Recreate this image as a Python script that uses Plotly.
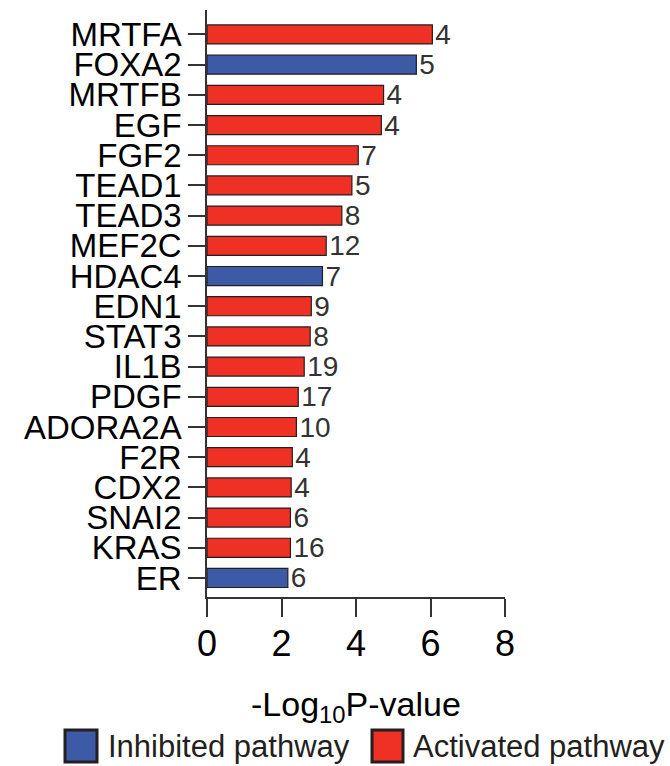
import plotly.graph_objects as go

genes = ["MRTFA", "FOXA2", "MRTFB", "EGF", "FGF2", "TEAD1", "TEAD3", "MEF2C", "HDAC4",
         "EDN1", "STAT3", "IL1B", "PDGF", "ADORA2A", "F2R", "CDX2", "SNAI2", "KRAS", "ER"]
neg_log10_p = [6.05, 5.62, 4.74, 4.68, 4.06, 3.89, 3.62, 3.20, 3.10,
               2.80, 2.77, 2.61, 2.45, 2.40, 2.29, 2.26, 2.24, 2.24, 2.17]
gene_counts = [4, 5, 4, 4, 7, 5, 8, 12, 7, 9, 8, 19, 17, 10, 4, 4, 6, 16, 6]
direction = ["A", "I", "A", "A", "A", "A", "A", "A", "I",
             "A", "A", "A", "A", "A", "A", "A", "A", "A", "I"]
x_ticks = [0, 2, 4, 6, 8]

RED = "#EE3124"
BLUE = "#3C5AA6"
FONT = "Arial, Liberation Sans, sans-serif"

fig = go.Figure()
for code, color, name in [("A", RED, "Activated pathway"), ("I", BLUE, "Inhibited pathway")]:
    ys = [g for g, d in zip(genes, direction) if d == code]
    xs = [v for v, d in zip(neg_log10_p, direction) if d == code]
    ts = [str(c) for c, d in zip(gene_counts, direction) if d == code]
    fig.add_trace(go.Bar(
        x=xs, y=ys, orientation="h", name=name, showlegend=False,
        marker=dict(color=color, line=dict(color="#231F20", width=1.2)),
        width=0.63, text=ts, textposition="outside", constraintext="none",
        textfont=dict(size=28, color="#333333", family=FONT), cliponaxis=False,
    ))

fig.update_layout(
    width=670, height=766,
    margin=dict(l=207, r=165, t=10, b=169),
    plot_bgcolor="white", paper_bgcolor="white",
    font=dict(family=FONT, color="black"),
    barmode="overlay",
    xaxis=dict(range=[0, 8], tickmode="array", tickvals=x_ticks, ticktext=[str(t) for t in x_ticks],
               ticks="outside", ticklen=18, tickwidth=1.5, ticklabelstandoff=-4,
               tickcolor="#333333", showline=True, linecolor="#333333", linewidth=1.5,
               showgrid=False, zeroline=False, tickfont=dict(size=36, color="black")),
    yaxis=dict(categoryorder="array", categoryarray=genes, range=[18.63, -0.81],
               tickmode="array", tickvals=genes, ticktext=genes,
               ticks="outside", ticklen=17, tickwidth=1.5, tickcolor="#333333",
               showline=True, linecolor="#333333", linewidth=1.5, showgrid=False,
               zeroline=False, tickfont=dict(size=33, color="black")),
)

def px_x(p):
    return (p - 207) / 298.0

def px_y(p):
    return (597 - p) / 587.0

fig.add_annotation(text="-Log<sub>10</sub>P-value", xref="paper", yref="paper",
                   x=0.5, y=px_y(706), xanchor="center", yanchor="middle",
                   showarrow=False, font=dict(size=34, color="black"))

for x0, x1, color, label, tx in [(65, 97, BLUE, "Inhibited pathway", 106),
                                 (372, 403, RED, "Activated pathway", 411)]:
    fig.add_shape(type="rect", xref="paper", yref="paper",
                  x0=px_x(x0), x1=px_x(x1), y0=px_y(762), y1=px_y(730),
                  fillcolor=color, line=dict(color="#231F20", width=3))
    fig.add_annotation(text=label, xref="paper", yref="paper", x=px_x(tx), y=px_y(746),
                       xanchor="left", yanchor="middle", showarrow=False,
                       font=dict(size=31, color="#231F20"))

fig.write_html("out.html", config={"displayModeBar": False},
               post_script="document.body.style.margin='0';document.body.style.overflow='hidden';")
